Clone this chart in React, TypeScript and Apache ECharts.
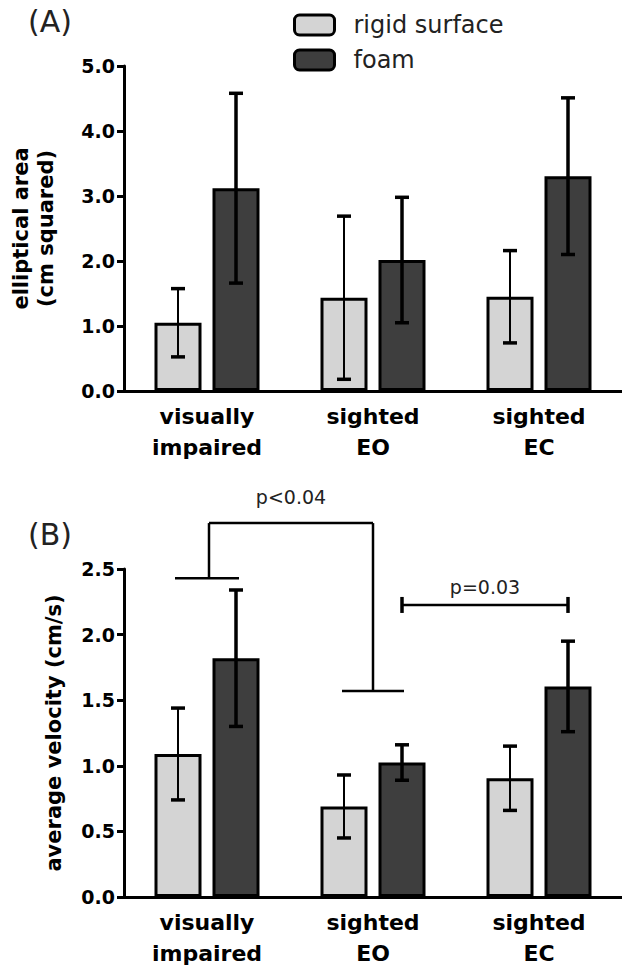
import React, { useEffect, useRef } from 'react';
import * as echarts from 'echarts';

// ---------- data ----------
const categories = ['visually\nimpaired', 'sighted\nEO', 'sighted\nEC'];
const seriesNames = ['rigid surface', 'foam'];

// Panel A: elliptical area (cm squared), mean and SD
const areaRigidMean = [1.05, 1.435, 1.45];
const areaRigidSD = [0.525, 1.255, 0.71];
const areaFoamMean = [3.12, 2.015, 3.305];
const areaFoamSD = [1.46, 0.965, 1.205];
const areaAxis = { min: 0, max: 5, interval: 1 };

// Panel B: average velocity (cm/s), mean and SD
const velRigidMean = [1.09, 0.69, 0.905];
const velRigidSD = [0.35, 0.24, 0.245];
const velFoamMean = [1.82, 1.025, 1.605];
const velFoamSD = [0.52, 0.135, 0.345];
const velAxis = { min: 0, max: 2.5, interval: 0.5 };

// Significance annotations in panel B
const sigLabels = ['p<0.04', 'p=0.03'];
const sigLabelLevels = [3.05, 2.36];
const bracket1Levels = [2.43, 2.85, 1.57]; // left foot, top bar, right foot
const bracket1Cats = [0, 1];
const bracket2Level = 2.226;
const bracket2Cats = [1, 2];

const RIGID_COLOR = '#d4d4d4';
const FOAM_COLOR = '#3e3e3e';
const FONT = 'DejaVu Sans';
const BAR_W = 47;
const BAR_GAP = 11;
const OFFSET = (BAR_W + BAR_GAP) / 2;

function errData(mean: number[], sd: number[]) {
  return mean.map((m, i) => [i, m, m - sd[i], m + sd[i]]);
}

function errorRenderer(offset: number, lineWidth: number) {
  return (params: any, api: any) => {
    const cat = api.value(0);
    const lo = api.coord([cat, api.value(2)]);
    const hi = api.coord([cat, api.value(3)]);
    const x = lo[0] + offset;
    const half = 7;
    const st = { stroke: '#000', lineWidth };
    const cap = { stroke: '#000', lineWidth: 3.5 };
    return {
      type: 'group',
      children: [
        { type: 'line', shape: { x1: x, y1: lo[1], x2: x, y2: hi[1] }, style: st },
        { type: 'line', shape: { x1: x - half, y1: hi[1], x2: x + half, y2: hi[1] }, style: cap },
        { type: 'line', shape: { x1: x - half, y1: lo[1], x2: x + half, y2: lo[1] }, style: cap },
      ],
    };
  };
}

function bracketRenderer(params: any, api: any) {
  const st = { stroke: '#000', lineWidth: 2.5 };
  const a = api.coord([bracket1Cats[0], bracket1Levels[0]]);
  const top = api.coord([bracket1Cats[0], bracket1Levels[1]]);
  const b = api.coord([bracket1Cats[1], bracket1Levels[2]]);
  const xa = a[0] + 2;
  const xb = b[0];
  const lbl1 = api.coord([bracket1Cats[0], sigLabelLevels[0]]);
  const c = api.coord([bracket2Cats[0], bracket2Level]);
  const d = api.coord([bracket2Cats[1], bracket2Level]);
  const xc = c[0] + OFFSET;
  const xd = d[0] + OFFSET;
  const lbl2 = api.coord([bracket2Cats[0], sigLabelLevels[1]]);
  const textStyle = (text: string, x: number, y: number) => ({
    type: 'text',
    x,
    y,
    style: {
      text,
      fill: '#222',
      fontSize: 19,
      fontFamily: FONT,
      align: 'center',
      verticalAlign: 'middle',
    },
  });
  return {
    type: 'group',
    children: [
      { type: 'line', shape: { x1: a[0] - 32, y1: a[1], x2: a[0] + 32, y2: a[1] }, style: st },
      { type: 'line', shape: { x1: xa, y1: a[1], x2: xa, y2: top[1] }, style: st },
      { type: 'line', shape: { x1: xa, y1: top[1], x2: xb, y2: top[1] }, style: st },
      { type: 'line', shape: { x1: xb, y1: top[1], x2: xb, y2: b[1] }, style: st },
      { type: 'line', shape: { x1: xb - 31, y1: b[1], x2: xb + 31, y2: b[1] }, style: st },
      textStyle(sigLabels[0], (xa + xb) / 2, lbl1[1]),
      { type: 'line', shape: { x1: xc, y1: c[1], x2: xd, y2: d[1] }, style: st },
      { type: 'line', shape: { x1: xc, y1: c[1] - 8, x2: xc, y2: c[1] + 8 }, style: { stroke: '#000', lineWidth: 3.5 } },
      { type: 'line', shape: { x1: xd, y1: d[1] - 8, x2: xd, y2: d[1] + 8 }, style: { stroke: '#000', lineWidth: 3.5 } },
      textStyle(sigLabels[1], (xc + xd) / 2, lbl2[1]),
    ],
  };
}

function xAxisDef(gridIndex: number) {
  return {
    type: 'category',
    gridIndex,
    data: categories,
    axisLine: { lineStyle: { color: '#000', width: 3 } },
    axisTick: { alignWithLabel: true, length: 8, lineStyle: { color: '#000', width: 2.5 } },
    axisLabel: {
      color: '#000',
      fontFamily: FONT,
      fontWeight: 'bold',
      fontSize: 22,
      lineHeight: 31,
      margin: 10,
      interval: 0,
    },
  };
}

function yAxisDef(gridIndex: number, ax: any, name: string, nameGap: number) {
  return {
    type: 'value',
    gridIndex,
    min: ax.min,
    max: ax.max,
    interval: ax.interval,
    name,
    nameLocation: 'middle',
    nameRotate: 90,
    nameGap,
    nameTextStyle: {
      color: '#000',
      fontFamily: FONT,
      fontWeight: 'bold',
      fontSize: 21,
      lineHeight: 25,
    },
    splitLine: { show: false },
    axisLine: { show: true, lineStyle: { color: '#000', width: 3 } },
    axisTick: { show: true, length: 7, lineStyle: { color: '#000', width: 3 } },
    axisLabel: {
      color: '#000',
      fontFamily: FONT,
      fontWeight: 'bold',
      fontSize: 19,
      margin: 9,
      formatter: (v: number) => v.toFixed(1),
    },
  };
}

function barSeries(name: string, color: string, data: number[], idx: number) {
  return {
    name,
    type: 'bar',
    xAxisIndex: idx,
    yAxisIndex: idx,
    data,
    barWidth: BAR_W,
    barGap: (BAR_GAP / BAR_W) * 100 + '%',
    itemStyle: { color, borderColor: '#000', borderWidth: 3 },
    z: 2,
  };
}

function errSeries(name: string, data: any[], idx: number, offset: number, lw: number) {
  return {
    name,
    type: 'custom',
    xAxisIndex: idx,
    yAxisIndex: idx,
    data,
    encode: { x: 0, y: [1, 2, 3] },
    renderItem: errorRenderer(offset, lw),
    clip: false,
    z: 5,
    silent: true,
  };
}

export default function App() {
  const ref = useRef<HTMLDivElement>(null);
  useEffect(() => {
    if (!ref.current) return;
    const chart = echarts.init(ref.current, undefined, { renderer: 'svg' });
    chart.setOption({
      animation: false,
      backgroundColor: '#fff',
      textStyle: { fontFamily: FONT },
      legend: {
        data: seriesNames,
        orient: 'vertical',
        left: 293,
        top: 13,
        padding: 0,
        itemWidth: 40,
        itemHeight: 20,
        itemGap: 11,
        icon: 'roundRect',
        itemStyle: { borderColor: '#000', borderWidth: 3 },
        textStyle: {
          color: '#222',
          fontFamily: FONT,
          fontSize: 24,
          lineHeight: 20,
          padding: [0, 0, 0, 14],
        },
        selectedMode: false,
      },
      graphic: [
        {
          type: 'text',
          left: 28,
          top: 6,
          style: { text: '(A)', fontSize: 30, fontFamily: FONT, fill: '#222' },
        },
        {
          type: 'text',
          left: 28,
          top: 519,
          style: { text: '(B)', fontSize: 30, fontFamily: FONT, fill: '#222' },
        },
      ],
      grid: [
        { left: 124, right: -3, top: 66, height: 325 },
        { left: 124, right: -3, top: 569, height: 328 },
      ],
      xAxis: [xAxisDef(0), xAxisDef(1)],
      yAxis: [
        yAxisDef(0, areaAxis, 'elliptical area\n(cm squared)', 66),
        yAxisDef(1, velAxis, 'average velocity (cm/s)', 58),
      ],
      series: [
        barSeries(seriesNames[0], RIGID_COLOR, areaRigidMean, 0),
        barSeries(seriesNames[1], FOAM_COLOR, areaFoamMean, 0),
        errSeries('errA0', errData(areaRigidMean, areaRigidSD), 0, -OFFSET, 2),
        errSeries('errA1', errData(areaFoamMean, areaFoamSD), 0, OFFSET, 3.5),
        barSeries(seriesNames[0], RIGID_COLOR, velRigidMean, 1),
        barSeries(seriesNames[1], FOAM_COLOR, velFoamMean, 1),
        errSeries('errB0', errData(velRigidMean, velRigidSD), 1, -OFFSET, 2),
        errSeries('errB1', errData(velFoamMean, velFoamSD), 1, OFFSET, 3.5),
        {
          name: 'significance',
          type: 'custom',
          xAxisIndex: 1,
          yAxisIndex: 1,
          data: [[0, 0]],
          encode: { x: 0, y: 1 },
          renderItem: bracketRenderer,
          clip: false,
          z: 6,
          silent: true,
        },
      ],
    });
    return () => chart.dispose();
  }, []);
  return (
    <div
      ref={ref}
      style={{ position: 'absolute', left: 0, top: 0, width: 622, height: 972 }}
    />
  );
}
